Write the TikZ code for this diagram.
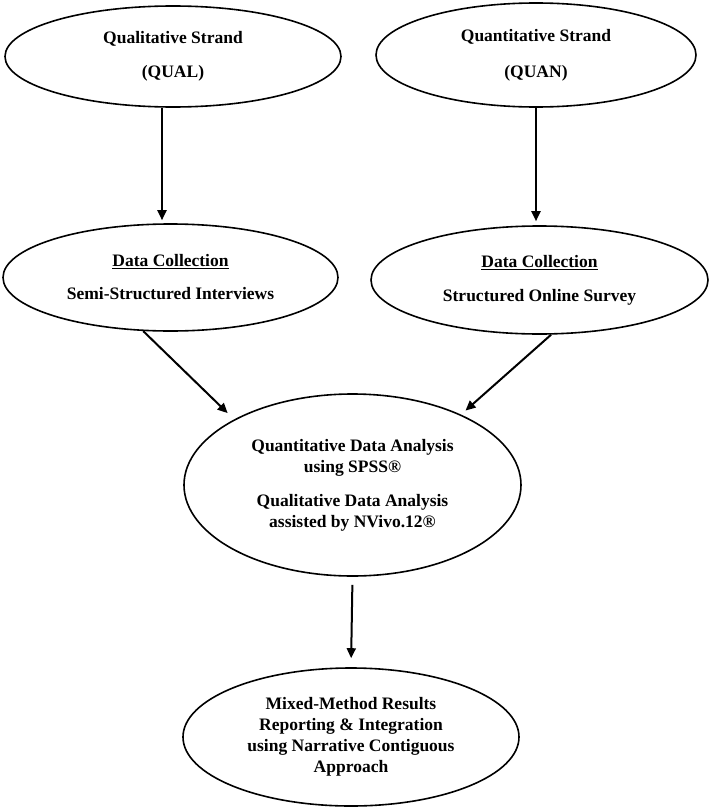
\documentclass[tikz,border=0pt]{standalone}
\usepackage{fontspec}
\setmainfont{Liberation Serif}
\usetikzlibrary{shapes.geometric,arrows.meta}
\begin{document}
\begin{tikzpicture}[x=1pt,y=-1pt,
  oval/.style={ellipse, draw, line width=1.6pt, inner sep=0pt, align=center,
    font=\bfseries\fontsize{17.5}{21}\selectfont},
  arr/.style={line width=2pt, -{Triangle[length=10pt,width=9pt]}}]
\useasboundingbox (0,0) rectangle (710,811);
\node[oval, minimum width=336, minimum height=101] (qual) at (173,56.5)
  {Qualitative Strand\\[13pt](QUAL)};
\node[oval, minimum width=320, minimum height=104] (quan) at (536,55)
  {Quantitative Strand\\[15pt](QUAN)};
\node[oval, minimum width=335, minimum height=107] (qualdc) at (170.5,277.5)
  {\underline{Data Collection}\\[12pt]Semi-Structured Interviews};
\node[oval, minimum width=337, minimum height=108] (quandc) at (539.5,280)
  {\underline{Data Collection}\\[13pt]Structured Online Survey};
\node[oval, minimum width=337, minimum height=182] (analysis) at (352.5,485)
  {Quantitative Data Analysis\\using SPSS®\\[13pt]Qualitative Data Analysis\\assisted by NVivo.12®};
\node[oval, minimum width=336, minimum height=138] (result) at (351,737)
  {Mixed-Method Results\\Reporting \& Integration\\using Narrative Contiguous\\Approach};
\draw[arr, shorten >=3pt] ([xshift=-11pt]qual.south) -- ([xshift=-8.5pt]qualdc.north);
\draw[arr, shorten >=4pt] (quan.south) -- (quan.south |- quandc.north);
\draw[arr, shorten >=9pt] (qualdc.243) -- (analysis.151);
\draw[arr, shorten >=6pt] (quandc.282) -- (analysis.33);
\draw[arr, shorten <=8pt, shorten >=9pt] (analysis.south) -- (result.north);
\end{tikzpicture}
\end{document}
